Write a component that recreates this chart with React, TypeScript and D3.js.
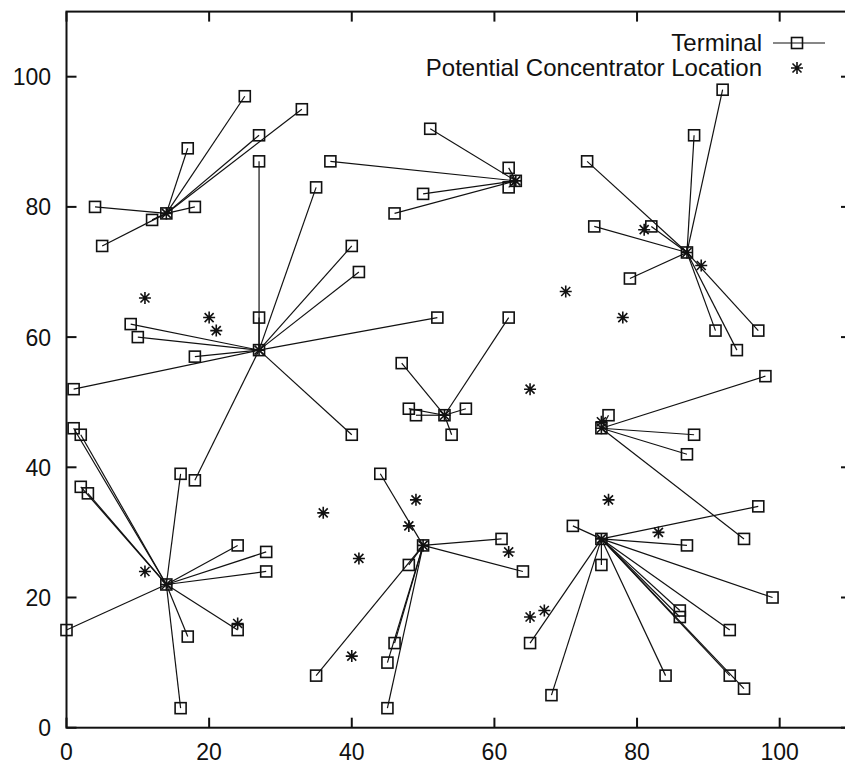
import React, { useEffect, useRef } from 'react';
import * as d3 from 'd3';

// chosen concentrator sites (each one also holds a terminal)
const concentrators = [
    [14, 79], [27, 58], [63, 84], [87, 73], [53, 48], [75, 46], [14, 22], [50, 28], [75, 29]
];

// terminals: x, y, index of the concentrator they are wired to
const terminals = [
    [4, 80, 0], [12, 78, 0], [5, 74, 0], [18, 80, 0], [17, 89, 0], [25, 97, 0], [27, 91, 0], [33, 95, 0],
    [27, 87, 1], [27, 63, 1], [9, 62, 1], [10, 60, 1], [18, 57, 1], [1, 52, 1], [35, 83, 1], [40, 74, 1],
    [41, 70, 1], [52, 63, 1], [40, 45, 1], [18, 38, 1],
    [37, 87, 2], [51, 92, 2], [50, 82, 2], [46, 79, 2], [62, 86, 2], [62, 83, 2],
    [73, 87, 3], [74, 77, 3], [82, 77, 3], [79, 69, 3], [88, 91, 3], [92, 98, 3], [91, 61, 3], [97, 61, 3], [94, 58, 3],
    [47, 56, 4], [48, 49, 4], [49, 48, 4], [56, 49, 4], [54, 45, 4], [62, 63, 4],
    [76, 48, 5], [98, 54, 5], [88, 45, 5], [87, 42, 5], [95, 29, 5],
    [1, 46, 6], [2, 45, 6], [2, 37, 6], [3, 36, 6], [16, 39, 6], [24, 28, 6], [28, 27, 6], [28, 24, 6],
    [0, 15, 6], [17, 14, 6], [24, 15, 6], [16, 3, 6],
    [44, 39, 7], [61, 29, 7], [64, 24, 7], [48, 25, 7], [46, 13, 7], [45, 10, 7], [45, 3, 7], [35, 8, 7],
    [71, 31, 8], [97, 34, 8], [87, 28, 8], [75, 25, 8], [99, 20, 8], [86, 18, 8], [86, 17, 8], [93, 15, 8],
    [84, 8, 8], [93, 8, 8], [95, 6, 8], [65, 13, 8], [68, 5, 8]
];

// unused potential concentrator locations
const sites = [
    [11, 66], [20, 63], [21, 61], [36, 33], [41, 26], [40, 11], [48, 31], [49, 35], [62, 27], [65, 17],
    [67, 18], [65, 52], [70, 67], [78, 63], [76, 35], [83, 30], [81, 76.5], [89, 71], [75, 47], [11, 24], [24, 16]
];

const xTicks = [0, 20, 40, 60, 80, 100];
const yTicks = [0, 20, 40, 60, 80, 100];
const legendLabels = ['Terminal', 'Potential Concentrator Location'];

const W = 845;
const H = 767;
const ink = '#111';
const font = '"Liberation Sans", Arial, Helvetica, sans-serif';

const App = () => {
    const ref = useRef(null);

    useEffect(() => {
        const svg = d3.select(ref.current);
        svg.selectAll('*').remove();

        const x = d3.scaleLinear().domain([0, 110]).range([66.5, 851]);
        const y = d3.scaleLinear().domain([0, 110]).range([727.7, 11.6]);

        const square = (g, cx, cy, s = 11) => g.append('rect')
            .attr('x', cx - s / 2).attr('y', cy - s / 2)
            .attr('width', s).attr('height', s)
            .attr('fill', 'none').attr('stroke', ink).attr('stroke-width', 1.6);

        const star = (g, cx, cy) => {
            const r = 6, d = 4.5;
            g.append('path')
                .attr('d', `M${cx - r},${cy}H${cx + r}M${cx},${cy - r}V${cy + r}` +
                    `M${cx - d},${cy - d}L${cx + d},${cy + d}M${cx - d},${cy + d}L${cx + d},${cy - d}`)
                .attr('stroke', ink).attr('stroke-width', 1.6).attr('fill', 'none');
        };

        // links terminal -> concentrator
        svg.append('g').selectAll('line')
            .data(terminals)
            .join('line')
            .attr('x1', d => x(d[0])).attr('y1', d => y(d[1]))
            .attr('x2', d => x(concentrators[d[2]][0])).attr('y2', d => y(concentrators[d[2]][1]))
            .attr('stroke', ink).attr('stroke-width', 1.2);

        const marks = svg.append('g');
        terminals.forEach(d => square(marks, x(d[0]), y(d[1])));
        concentrators.forEach(d => { square(marks, x(d[0]), y(d[1])); star(marks, x(d[0]), y(d[1])); });
        sites.forEach(d => star(marks, x(d[0]), y(d[1])));

        // frame with inward ticks on all sides
        const [x0, x1] = x.range();
        const [y0, y1] = y.range();
        svg.append('rect')
            .attr('x', x0).attr('y', y1).attr('width', x1 - x0).attr('height', y0 - y1)
            .attr('fill', 'none').attr('stroke', ink).attr('stroke-width', 2);

        const ticks = svg.append('g').attr('stroke', ink).attr('stroke-width', 2);
        xTicks.forEach(t => {
            ticks.append('line').attr('x1', x(t)).attr('x2', x(t)).attr('y1', y0).attr('y2', y0 - 10);
            ticks.append('line').attr('x1', x(t)).attr('x2', x(t)).attr('y1', y1).attr('y2', y1 + 10);
        });
        yTicks.forEach(t => {
            ticks.append('line').attr('x1', x0).attr('x2', x0 + 10).attr('y1', y(t)).attr('y2', y(t));
            ticks.append('line').attr('x1', x1).attr('x2', x1 - 10).attr('y1', y(t)).attr('y2', y(t));
        });

        svg.append('g').selectAll('text')
            .data(xTicks)
            .join('text')
            .attr('x', d => x(d)).attr('y', 760)
            .attr('text-anchor', 'middle')
            .attr('font-family', font).attr('font-size', 23).attr('fill', ink)
            .text(d => d);

        svg.append('g').selectAll('text')
            .data(yTicks)
            .join('text')
            .attr('x', 51).attr('y', d => y(d) + 8.5)
            .attr('text-anchor', 'end')
            .attr('font-family', font).attr('font-size', 23).attr('fill', ink)
            .text(d => d);

        // legend
        const legend = svg.append('g').attr('font-family', font).attr('font-size', 24).attr('fill', ink);
        legend.append('text').attr('x', 762).attr('y', 51).attr('text-anchor', 'end').text(legendLabels[0]);
        legend.append('text').attr('x', 762).attr('y', 76).attr('text-anchor', 'end').text(legendLabels[1]);
        legend.append('line').attr('x1', 773).attr('x2', 825).attr('y1', 43).attr('y2', 43)
            .attr('stroke', ink).attr('stroke-width', 1.2);
        square(legend, 797, 43);
        star(legend, 797, 68);
    }, []);

    return (
        <svg ref={ref} width={W} height={H}
            style={{ position: 'absolute', top: 0, left: 0, background: '#fff' }} />
    );
};

export default App;
